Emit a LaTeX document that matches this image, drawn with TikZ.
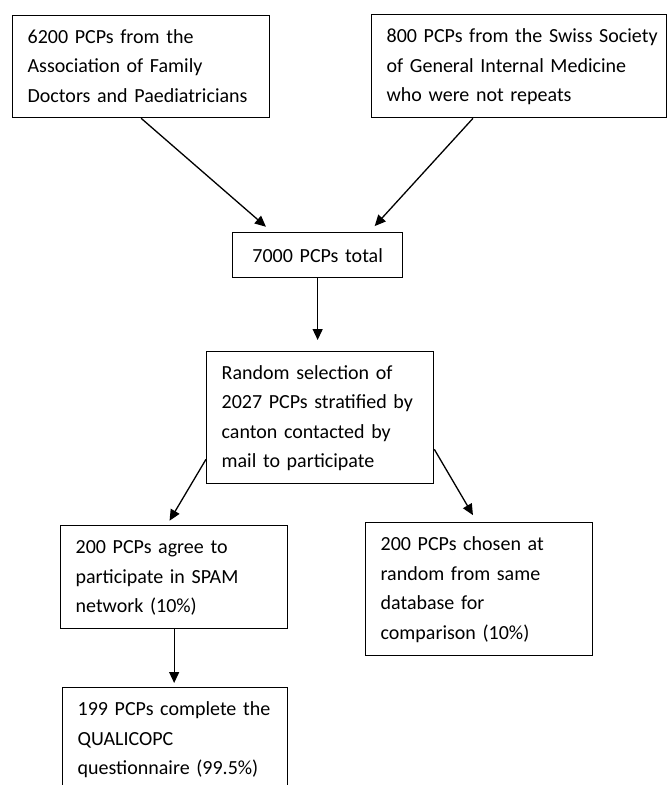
\documentclass[tikz,border=0pt]{standalone}
\usepackage{fontspec}
\setmainfont{Carlito}
\usetikzlibrary{arrows.meta}
\newcommand{\boxlines}[1]{\begin{tabular}{@{}l@{}}#1\end{tabular}}

\begin{document}
\begin{tikzpicture}[x=1pt, y=-1pt,
        box/.style={draw, line width=1.3pt, anchor=north west, align=left,
            inner xsep=15pt, inner ysep=0pt,
            font=\fontsize{20}{29.5}\selectfont},
        arr/.style={line width=1.3pt, -{Triangle[length=11pt,width=10pt]}}]
            \useasboundingbox (0,0) rectangle (667,785);
            \node[box, text width=227pt, minimum height=102pt] (famdoc) at (12,15)
                {\boxlines{6200 PCPs from the\\Association of Family\\Doctors and Paediatricians}};
            \node[box, text width=265pt, minimum height=103pt] (ssgim) at (371,14)
                {\boxlines{800 PCPs from the Swiss Society\\of General Internal Medicine\\who were not repeats}};
            \node[box, align=center, text width=140pt, minimum height=45pt] (total) at (232,232)
                {7000 PCPs total};
            \node[box, text width=197pt, minimum height=132pt] (random) at (206,351)
                {\boxlines{Random selection of\\2027 PCPs stratified by\\canton contacted by\\mail to participate}};
            \node[box, text width=197pt, minimum height=103pt] (agree) at (60,525)
                {\boxlines{200 PCPs agree to\\participate in SPAM\\network (10\%)}};
            \node[box, text width=197pt, minimum height=133pt] (chosen) at (365,522)
                {\boxlines{200 PCPs chosen at\\random from same\\database for\\comparison (10\%)}};
            \node[box, text width=195pt, minimum height=103pt] (complete) at (62,687)
                {\boxlines{199 PCPs complete the\\QUALICOPC\\questionnaire (99.5\%)}};
            \draw[arr, shorten >=8pt] (famdoc.south) -- ([xshift=40pt]total.north west);
            \draw[arr, shorten >=8pt] ([xshift=102pt]ssgim.south west) --
                ([xshift=-34pt]total.north east);
            \draw[arr, shorten >=11pt] (total.south) -- (total.south |- random.north);
            \draw[arr, shorten >=5pt] ([yshift=25pt]random.south west) --
                ([xshift=107pt]agree.north west);
            \draw[arr, shorten >=8pt] ([yshift=35pt]random.south east) --
                ([xshift=112pt]chosen.north west);
            \draw[arr, shorten >=4pt] (agree.south) -- (agree.south |- complete.north);
        \end{tikzpicture}
\end{document}
